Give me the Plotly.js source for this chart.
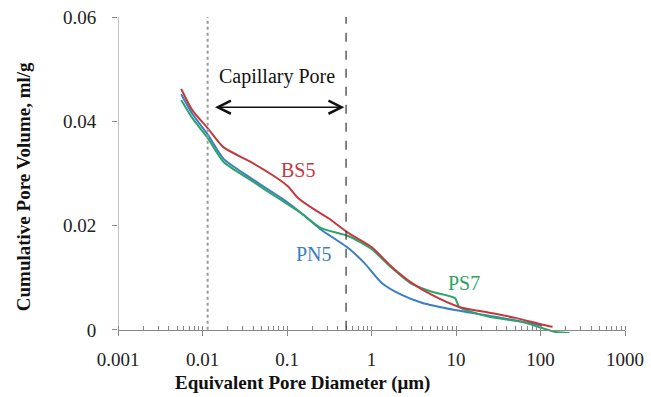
<!DOCTYPE html>
<html>
<head>
<meta charset="utf-8">
<script src="https://cdn.plot.ly/plotly-3.0.1.min.js"></script>
<style>html,body{margin:0;padding:0;background:#fff;}#chart{width:651px;height:397px;}</style>
</head>
<body>
<div id="chart"></div>
<script>
// ---- data ----
var seriesNames = ["PN5", "PS7", "BS5"];
var diameterPN5 = [0.0056, 0.0076, 0.0115, 0.0178, 0.0373, 0.085, 0.147, 0.254, 0.53, 0.826, 1.32, 2.28, 3.94, 9.73, 29.1, 74, 105];
var volumePN5   = [0.0452, 0.0414, 0.0375, 0.0328, 0.0291, 0.0253, 0.0224, 0.0192, 0.0157, 0.0128, 0.0090, 0.0067, 0.0052, 0.0038, 0.0025, 0.0013, 0.0008];
var diameterPS7 = [0.0056, 0.0076, 0.0115, 0.0178, 0.0373, 0.085, 0.147, 0.254, 0.53, 1.0, 1.73, 2.99, 5.18, 9.73, 10.9, 24.7, 61, 151, 221];
var volumePS7   = [0.0441, 0.0406, 0.0368, 0.0322, 0.0287, 0.0249, 0.0224, 0.0195, 0.0180, 0.0155, 0.0119, 0.0088, 0.0073, 0.0061, 0.0044, 0.0025, 0.0015, -0.0004, -0.0006];
var diameterBS5 = [0.0056, 0.0076, 0.0115, 0.0178, 0.0373, 0.070, 0.103, 0.135, 0.21, 0.31, 0.53, 1.0, 1.73, 2.99, 5.18, 10.9, 24.7, 50.4, 105.6, 139];
var volumeBS5   = [0.0462, 0.0421, 0.0387, 0.0350, 0.0322, 0.0295, 0.0275, 0.0253, 0.0231, 0.0214, 0.0186, 0.0159, 0.0121, 0.0090, 0.0067, 0.0044, 0.0033, 0.0023, 0.0010, 0.0006];

var xTickVals = [0.001, 0.01, 0.1, 1, 10, 100, 1000];
var xTickText = ["0.001", "0.01", "0.1", "1", "10", "100", "1000"];
var yTickVals = [0, 0.02, 0.04, 0.06];
var yTickText = ["0", "0.02", "0.04", "0.06"];

var capillaryBounds = [0.0115, 0.5];          // vertical reference lines (µm)
var arrowEnds = [0.0135, 0.477];              // arrow extent (µm)
var arrowLevel = 0.0427;
var capillaryLabel = "Capillary Pore";
var capillaryLabelPos = [0.076, 0.0485];
var labelDiam = [0.209, 0.135, 12.4];         // PN5, BS5, PS7 label positions
var labelVol  = [0.0146, 0.0307, 0.0090];
var labelText = ["PN5", "BS5", "PS7"];

var xTitle = "Equivalent Pore Diameter (μm)";
var yTitle = "Cumulative Pore Volume, ml/g";

// ---- styles ----
var colPN5 = "#3b7ec4", colPS7 = "#2ea466", colBS5 = "#c23a40";
var serif = "Liberation Serif, Times New Roman, serif";

var traces = [
  {x: diameterPN5, y: volumePN5, name: seriesNames[0], mode: "lines", line: {color: colPN5, width: 2, shape: "spline", smoothing: 0.6}},
  {x: diameterPS7, y: volumePS7, name: seriesNames[1], mode: "lines", line: {color: colPS7, width: 2, shape: "spline", smoothing: 0.6}},
  {x: diameterBS5, y: volumeBS5, name: seriesNames[2], mode: "lines", line: {color: colBS5, width: 2, shape: "spline", smoothing: 0.6}}
];

var yMin = -0.0006, yMax = 0.06;
var labelColors = [colPN5, colBS5, colPS7];

var annotations = [
  {xref: "x", yref: "y", x: Math.log10(arrowEnds[1]), y: arrowLevel,
   axref: "x", ayref: "y", ax: Math.log10(arrowEnds[0]), ay: arrowLevel,
   showarrow: true, arrowhead: 5, startarrowhead: 5, arrowside: "end+start",
   arrowsize: 1.6, startarrowsize: 1.6, arrowwidth: 1.6, arrowcolor: "#111", text: ""},
  {xref: "x", yref: "y", x: Math.log10(capillaryLabelPos[0]), y: capillaryLabelPos[1],
   text: capillaryLabel, showarrow: false, font: {family: serif, size: 20, color: "#111"}},
  {xref: "paper", yref: "paper", x: 0.363, y: -0.158, text: "<b>" + xTitle + "</b>",
   showarrow: false, xanchor: "center", yanchor: "middle", font: {family: serif, size: 19, color: "#111"}},
  {xref: "paper", yref: "paper", x: -0.187, y: 0.462, text: "<b>" + yTitle + "</b>", textangle: -90,
   showarrow: false, xanchor: "center", yanchor: "middle", font: {family: serif, size: 19, color: "#111"}}
];
for (var i = 0; i < labelText.length; i++) {
  annotations.push({xref: "x", yref: "y", x: Math.log10(labelDiam[i]), y: labelVol[i],
    text: labelText[i], showarrow: false, font: {family: serif, size: 20, color: labelColors[i]}});
}

var shapes = [
  {type: "line", xref: "x", yref: "y", x0: capillaryBounds[0], x1: capillaryBounds[0], y0: 0, y1: yMax,
   line: {color: "#9a9a9a", width: 2, dash: "dot"}},
  {type: "line", xref: "x", yref: "y", x0: capillaryBounds[1], x1: capillaryBounds[1], y0: 0, y1: yMax,
   line: {color: "#333", width: 1.2, dash: "dash"}},
  {type: "line", xref: "x", yref: "y", x0: xTickVals[0], x1: xTickVals[0], y0: 0, y1: yMax,
   line: {color: "#888", width: 1}}
];

var layout = {
  width: 651, height: 397,
  margin: {l: 118, r: 26, t: 17, b: 64},
  paper_bgcolor: "#fff", plot_bgcolor: "#fff",
  showlegend: false,
  xaxis: {
    type: "log", range: [-3, 3], anchor: "free", position: (0 - yMin) / (yMax - yMin),
    tickmode: "array", tickvals: xTickVals, ticktext: xTickText,
    ticks: "outside", ticklen: 5, tickcolor: "#888", ticklabelstandoff: 7,
    showline: true, linecolor: "#888", linewidth: 1,
    showgrid: false, zeroline: false,
    minor: {ticks: "inside", ticklen: 4, tickcolor: "#888", dtick: "D1", showgrid: false},
    tickfont: {family: serif, size: 19, color: "#222"}
  },
  yaxis: {
    range: [yMin, yMax],
    tickmode: "array", tickvals: yTickVals, ticktext: yTickText,
    ticks: "outside", ticklen: 5, tickcolor: "#888", ticklabelstandoff: 12,
    showline: false, showgrid: false, zeroline: false,
    tickfont: {family: serif, size: 19, color: "#222"}
  },
  shapes: shapes,
  annotations: annotations
};

Plotly.newPlot("chart", traces, layout, {displayModeBar: false, staticPlot: true});
</script>
</body>
</html>
